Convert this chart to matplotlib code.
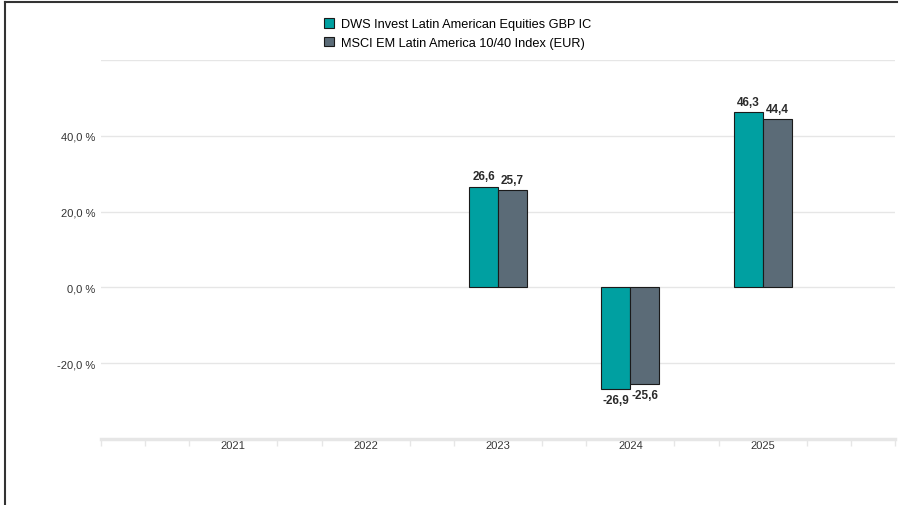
import numpy as np
import matplotlib
matplotlib.use("Agg")
import matplotlib.pyplot as plt
from matplotlib.patches import Patch
from matplotlib.lines import Line2D

plt.rcParams['font.family'] = ['Liberation Sans', 'DejaVu Sans']

# Daten
years = ['2021', '2022', '2023', '2024', '2025']
fund = [np.nan, np.nan, 26.6, -26.9, 46.3]
index = [np.nan, np.nan, 25.7, -25.6, 44.4]
fund_name = 'DWS Invest Latin American Equities GBP IC'
index_name = 'MSCI EM Latin America 10/40 Index (EUR)'
ytick_vals = [-20, 0, 20, 40]

fund_color = '#00A0A1'
index_color = '#5B6B77'
grid_color = '#e6e6e6'


def fmt(v):
    return f"{v:.1f}".replace('.', ',')


def main():
    fig = plt.figure(figsize=(8.99, 5.06), dpi=100)
    ax = fig.add_axes([101 / 899, 66 / 506, 794 / 899, 379 / 506])

    x = np.arange(len(years))
    w = 0.22
    ax.bar(x - w / 2, fund, w, color=fund_color, edgecolor='#1a1a1a', linewidth=0.8, zorder=3)
    ax.bar(x + w / 2, index, w, color=index_color, edgecolor='#1a1a1a', linewidth=0.8, zorder=3)

    # Werte an den Balken
    for xs, vals in ((x - w / 2, fund), (x + w / 2, index)):
        for xi, v in zip(xs, vals):
            if np.isnan(v):
                continue
            if v >= 0:
                ax.annotate(fmt(v), (xi, v), xytext=(0, 3), textcoords='offset points',
                            ha='center', va='bottom', fontsize=8.5, fontweight='bold', color='#2a2a2a')
            else:
                ax.annotate(fmt(v), (xi, v), xytext=(0, -3), textcoords='offset points',
                            ha='center', va='top', fontsize=8.5, fontweight='bold', color='#2a2a2a')

    ax.set_xlim(-1, len(years))
    ax.set_ylim(-40, 60)

    ax.set_yticks(ytick_vals)
    ax.set_yticklabels([fmt(v) + ' %' for v in ytick_vals], fontsize=8, color='#333333')
    ax.tick_params(axis='y', length=0, pad=4)
    ax.yaxis.grid(True, color=grid_color, linewidth=1, zorder=0)
    ax.axhline(60, color=grid_color, linewidth=1, zorder=0)

    ax.set_xticks(x)
    ax.set_xticklabels(years, fontsize=8, color='#333333')
    ax.tick_params(axis='x', which='major', length=0, pad=1)
    minor = [-1.0, len(years)] + [p for k in range(-1, len(years) + 1) for p in (k - 1 / 3, k + 1 / 3)]
    minor = [m for m in minor if -1 <= m <= len(years)]
    ax.set_xticks(sorted(set(round(m, 4) for m in minor)), minor=True)
    ax.tick_params(axis='x', which='minor', length=5, width=1, color=grid_color, direction='out')

    for s in ('top', 'right', 'left'):
        ax.spines[s].set_visible(False)
    ax.spines['bottom'].set_color(grid_color)
    ax.spines['bottom'].set_linewidth(2.5)
    ax.set_axisbelow(True)

    # Legende
    handles = [Patch(facecolor=fund_color, edgecolor='#1a1a1a', linewidth=0.8, label=fund_name),
               Patch(facecolor=index_color, edgecolor='#1a1a1a', linewidth=0.8, label=index_name)]
    fig.legend(handles=handles, loc='upper left', bbox_to_anchor=(315 / 899, 1 - 10 / 506),
               frameon=False, fontsize=9.2, handlelength=0.8, handleheight=0.8,
               handletextpad=0.5, labelspacing=0.5, borderpad=0.2)

    # Rahmen
    fig.add_artist(Line2D([5 / 899, 897 / 899], [1 - 2.5 / 506, 1 - 2.5 / 506], color='#333333', linewidth=1.5))
    fig.add_artist(Line2D([5 / 899, 5 / 899], [0, 1 - 2.5 / 506], color='#333333', linewidth=1.5))

    fig.savefig('out.png', dpi=100)


if __name__ == "__main__":
    main()
